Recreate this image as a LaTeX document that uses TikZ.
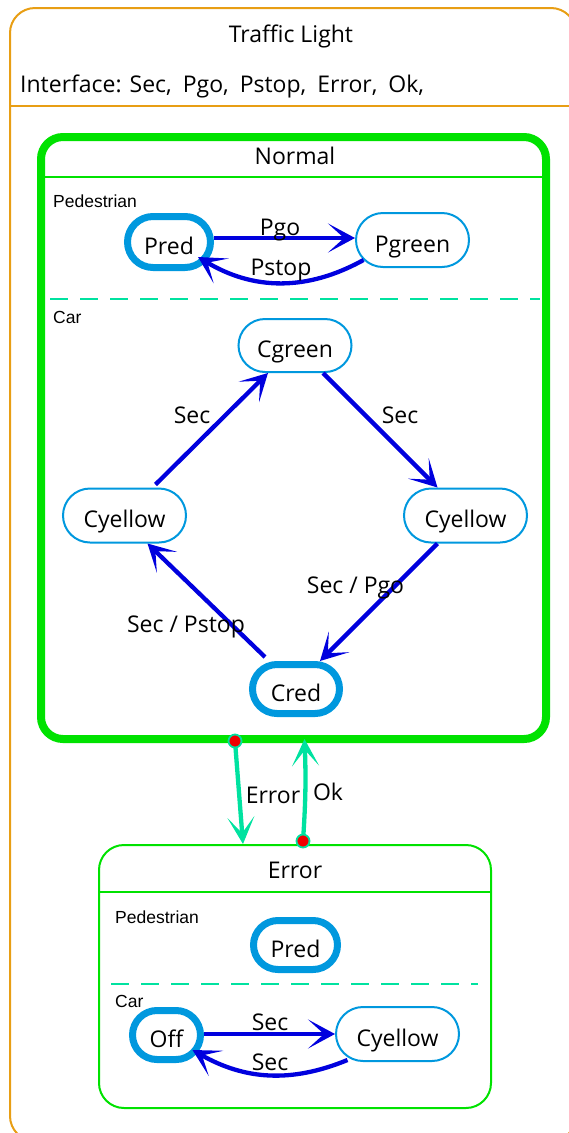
\documentclass[tikz,border=0pt]{standalone}
\usepackage{fontspec}
\setmainfont{Open Sans}
\newfontfamily\lblfont{Liberation Sans}
\usetikzlibrary{arrows.meta,calc}
\definecolor{orng}{RGB}{232,158,20}
\definecolor{grn}{RGB}{0,226,0}
\definecolor{tealc}{RGB}{0,226,160}
\definecolor{nblue}{RGB}{0,152,222}
\definecolor{ablue}{RGB}{0,0,222}
\definecolor{dotred}{RGB}{240,0,0}
\begin{document}
\begin{tikzpicture}[x=1pt,y=-1pt,
  st/.style={draw=nblue, rectangle, inner sep=0pt, text height=24pt, text depth=0pt, font=\fontsize{23}{27}\selectfont},
  thinst/.style={st, line width=2pt},
  thickst/.style={st, line width=7pt},
  sz/.style n args={3}{minimum width=#1, minimum height=#2, rounded corners=#3},
  tr/.style={draw=ablue, line width=4.3pt, -{Stealth[length=27pt,width=29pt,inset=16pt]}},
  ctr/.style={draw=tealc, line width=4.3pt, -{Stealth[length=27pt,width=27pt,inset=16pt]}},
  elbl/.style={anchor=base, inner sep=0pt, font=\fontsize{23}{27}\selectfont},
  rlbl/.style={anchor=base west, inner sep=0pt, font=\lblfont\fontsize{17.5}{20}\selectfont},
  reddot/.style={circle, fill=dotred, draw=tealc, line width=1.8pt, minimum size=13pt, inner sep=0pt},
  sepline/.style={draw=tealc, line width=2pt, dash pattern=on 18pt off 12pt},
]
\useasboundingbox (0,0) rectangle (569,1133);
\begin{scope}
\clip (0,0) rectangle (569,1133);
\draw[orng, line width=2pt, rounded corners=25pt] (10,8) rectangle (576,1141);
\end{scope}
\draw[orng, line width=2pt] (10,106) -- (569,106);
\node[elbl] (title) at (291,42) {Traffic Light};
\node[anchor=base west, inner sep=0pt, font=\fontsize{23}{27}\selectfont] (iface) at (20,92) {Interface: Sec,\hspace{0.22em} Pgo,\hspace{0.22em} Pstop,\hspace{0.22em} Error,\hspace{0.22em} Ok,};

% Normal state
\node[draw=grn, line width=8pt, rounded corners=22pt, minimum width=505pt, minimum height=602pt, inner sep=0pt] (normal) at (293.5,438) {};
\draw[grn, line width=2pt] (41,177) -- (546,177);
\node[elbl] (ntitle) at (295,164) {Normal};

% Pedestrian region
\node[rlbl] (ped1) at (53,207) {Pedestrian};
\node[thickst, sz={83pt}{51pt}{25.5pt}] (pred1) at (169,242) {Pred};
\node[thinst, sz={113pt}{54pt}{27pt}] (pgreen) at (412.5,240) {Pgreen};
\draw[tr] ($(pred1.east)+(0,-4)$) -- ($(pgreen.west)+(0,-2)$);
\node[elbl] (lpgo) at (280,235) {Pgo};
\draw[tr] ($(pgreen.center)+(-49,20)$) to[bend left=30] ($(pred1.center)+(29,15)$);
\node[elbl] (lpstop) at (281,275) {Pstop};

\draw[sepline] (50,299) -- (540,299);

% Car region
\node[rlbl] (car1) at (53,323) {Car};
\node[thinst, sz={113pt}{53pt}{26.5pt}] (cgreen) at (295,345.5) {Cgreen};
\node[thinst, sz={123pt}{54pt}{27pt}] (cyl) at (124.5,515.5) {Cyellow};
\node[thinst, sz={123pt}{54pt}{27pt}] (cyr) at (465.5,515.5) {Cyellow};
\node[thickst, sz={87pt}{49pt}{24.5pt}] (cred) at (296,689) {Cred};
\draw[tr] ($(cyl.north)+(31,-3)$) -- ($(cgreen.south)+(-27,0)$);
\draw[tr] ($(cgreen.south)+(28,0)$) -- ($(cyr.north)+(-28,0)$);
\draw[tr] ($(cyr.south)+(-28,0)$) -- ($(cred.north)+(24,0)$);
\draw[tr] ($(cred.north)+(-31,-4)$) -- ($(cyl.south)+(23,0)$);
\node[elbl] (ls1) at (192,423) {Sec};
\node[elbl] (ls2) at (400,423) {Sec};
\node[elbl] (ls3) at (355.5,593) {Sec / Pgo};
\node[elbl] (ls4) at (186,632) {Sec / Pstop};

% Error state
\node[draw=grn, line width=2pt, rounded corners=25pt, minimum width=392pt, minimum height=263pt, inner sep=0pt] (errbox) at (295,976.5) {};
\draw[grn, line width=2pt] (99,892) -- (491,892);
\node[elbl] (etitle) at (295,878) {Error};
\node[rlbl] (ped2) at (115,923) {Pedestrian};
\node[thickst, sz={84pt}{49pt}{24.5pt}] (pred2) at (295.5,945) {Pred};
\draw[sepline] (111,984) -- (478,984);
\node[rlbl] (car2) at (115,1007) {Car};
\node[thickst, sz={68pt}{49pt}{24.5pt}] (off) at (166.5,1035) {Off};
\node[thinst, sz={123pt}{54pt}{27pt}] (cye) at (397.5,1034) {Cyellow};
\draw[tr] ($(off.east)+(0,-1)$) -- (cye.west);
\node[elbl] (le1) at (270,1030) {Sec};
\draw[tr] ($(cye.center)+(-50,26)$) to[bend left=26] ($(off.center)+(26,15)$);
\node[elbl] (le2) at (270,1070) {Sec};

% Transitions between Normal and Error
\coordinate (p1) at (235,741);
\coordinate (p2) at (303,841);
\draw[ctr] (p1) -- ($(errbox.north)+(-52,0)$);
\draw[ctr] (p2) to[bend right=3] ($(normal.south)+(11,-4)$);
\node[reddot] (d1) at (p1) {};
\node[reddot] (d2) at (p2) {};
\node[elbl] (lerr) at (273,803) {Error};
\node[elbl] (lok) at (328,800) {Ok};
\end{tikzpicture}
\end{document}
